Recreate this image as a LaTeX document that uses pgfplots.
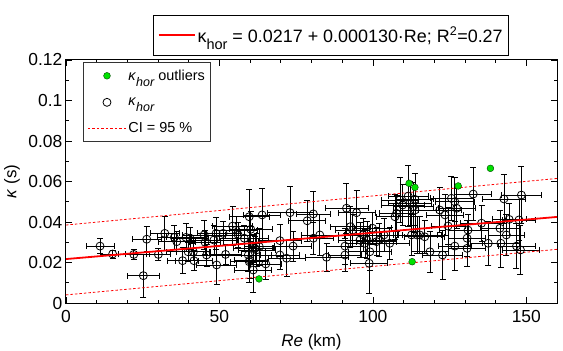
\documentclass[border=0pt]{standalone}
\usepackage{fontspec}
\setmainfont{Liberation Sans}
\usepackage{pgfplots}
\pgfplotsset{compat=1.18}
\usepackage{pgfplotstable}

\definecolor{outgreen}{RGB}{0,225,0}

\newcommand{\subhor}[2]{\raisebox{-#2}{\fontsize{#1}{#1}\selectfont hor}}

\pgfplotsset{
  mylegimg/.style={legend image code/.code={\draw[mark repeat=2,mark phase=2,##1] plot coordinates {(0bp,0bp) (19bp,0bp) (38bp,0bp)};}},
  fitlegimg/.style={legend image code/.code={\draw[red, line width=2bp] (0bp,0bp) -- (36bp,0bp);}},
}

\pgfplotstableread{
x y ex ey
11.1 0.0281 4.5 0.0036
15.2 0.0242 4.0 0.0020
22.1 0.0240 5.0 0.0025
25.2 0.0135 5.2 0.0105
26.3 0.0315 4.7 0.0062
30.1 0.0240 4.0 0.0030
32.2 0.0344 4.6 0.0084
35.3 0.0324 5.5 0.0060
36.1 0.0303 6.0 0.0050
38.0 0.0209 5.0 0.0064
39.1 0.0324 6.5 0.0070
39.8 0.0253 7.0 0.0045
40.4 0.0320 6.0 0.0055
41.5 0.0253 5.5 0.0040
41.7 0.0209 6.0 0.0050
45.0 0.0336 7.0 0.0070
45.3 0.0300 5.0 0.0060
45.8 0.0237 6.0 0.0055
48.2 0.0311 7.5 0.0070
48.9 0.0344 6.0 0.0080
49.1 0.0188 6.5 0.0095
51.2 0.0344 5.5 0.0060
52.0 0.0240 5.0 0.0050
54.3 0.0380 6.5 0.0095
55.4 0.0360 7.0 0.0070
56.1 0.0336 6.0 0.0060
58.1 0.0320 8.0 0.0065
59.4 0.0237 7.5 0.0080
59.7 0.0426 6.5 0.0133
59.7 0.0204 6.0 0.0100
59.9 0.0212 5.0 0.0090
60.2 0.0364 7.0 0.0090
61.0 0.0163 6.0 0.0110
61.0 0.0270 6.5 0.0070
61.6 0.0270 5.5 0.0060
62.1 0.0262 6.0 0.0080
63.0 0.0278 5.0 0.0090
63.9 0.0435 6.0 0.0130
65.1 0.0193 5.0 0.0075
69.7 0.0308 7.0 0.0080
69.7 0.0237 6.5 0.0070
71.9 0.0221 6.0 0.0090
73.0 0.0446 7.5 0.0130
74.0 0.0281 6.0 0.0075
78.6 0.0406 6.0 0.0100
80.6 0.0440 5.5 0.0110
80.6 0.0320 6.5 0.0080
82.7 0.0336 6.0 0.0100
84.9 0.0226 7.0 0.0070
90.9 0.0281 6.0 0.0090
90.9 0.0237 5.5 0.0080
91.4 0.0468 7.0 0.0125
92.7 0.0377 6.5 0.0100
93.4 0.0360 5.5 0.0080
94.7 0.0446 6.0 0.0110
95.8 0.0311 7.0 0.0085
96.8 0.0336 6.0 0.0080
97.4 0.0295 6.5 0.0070
98.1 0.0311 5.5 0.0090
98.8 0.0196 6.0 0.0150
99.0 0.0253 7.0 0.0090
99.9 0.0369 6.0 0.0080
101.2 0.0303 6.5 0.0070
102.1 0.0311 5.5 0.0080
103.6 0.0336 6.0 0.0080
105.5 0.0295 6.5 0.0080
107.2 0.0426 6.0 0.0110
107.7 0.0443 5.5 0.0090
108.8 0.0509 6.0 0.0110
109.7 0.0484 7.0 0.0100
111.5 0.0528 6.5 0.0150
112.1 0.0492 7.0 0.0110
112.6 0.0336 6.0 0.0100
113.1 0.0476 6.5 0.0120
113.7 0.0512 6.0 0.0130
113.7 0.0459 7.0 0.0110
114.4 0.0336 6.5 0.0090
115.3 0.0336 7.0 0.0090
116.9 0.0327 6.5 0.0080
118.6 0.0253 6.0 0.0100
121.8 0.0459 7.0 0.0110
122.7 0.0237 6.5 0.0120
123.5 0.0435 6.0 0.0100
124.5 0.0380 5.5 0.0090
125.6 0.0517 7.0 0.0110
126.7 0.0500 6.5 0.0120
127.3 0.0468 6.0 0.0100
126.7 0.0281 5.5 0.0120
130.7 0.0320 6.0 0.0090
131.0 0.0360 6.5 0.0080
130.7 0.0270 6.0 0.0090
132.7 0.0538 6.0 0.0130
135.4 0.0394 7.0 0.0090
137.6 0.0295 6.0 0.0110
141.4 0.0369 6.5 0.0090
141.7 0.0295 6.0 0.0120
142.7 0.0514 7.0 0.0120
143.5 0.0336 6.0 0.0100
144.4 0.0413 5.5 0.0080
146.8 0.0281 6.0 0.0110
147.6 0.0410 5.5 0.0100
148.1 0.0262 6.0 0.0120
148.4 0.0533 6.5 0.0140
}\maindata

\pgfplotstableread{
x y
62.9 0.0119
111.8 0.0591
113.7 0.0571
127.8 0.0578
138.3 0.0665
112.8 0.0204
}\outdata

\pgfplotstableread{
x y
0 0.0385
160 0.0615
}\ciup

\pgfplotstableread{
x y
0 0.0040
160 0.0265
}\cilow

\pgfplotstableread{
x y
0 0.0217
160 0.0425
}\fitline

\begin{document}
\begin{tikzpicture}
\begin{axis}[
  name=main,
  width=491bp, height=243bp, scale only axis,
  xmin=0, xmax=160, ymin=0, ymax=0.12,
  xtick={0,50,100,150}, minor x tick num=4,
  ytick={0,0.02,0.04,0.06,0.08,0.1,0.12}, minor y tick num=1,
  scaled y ticks=false,
  yticklabel style={/pgf/number format/fixed, /pgf/number format/precision=2, inner xsep=0pt, xshift=-3.5bp},
  xticklabel style={yshift=-4bp},
  tick label style={font=\fontsize{17.5}{20}\selectfont},
  /pgf/number format/assume math mode=true,
  major tick length=6bp, minor tick length=3bp,
  tick style={black, line width=0.7bp},
  axis line style={black, line width=1bp},
  xlabel={\textit{Re} (km)},
  ylabel={\textit{κ} (s)},
  label style={font=\fontsize{17}{20}\selectfont},
  xlabel style={at={(rel axis cs:0.5,0)}, anchor=center, yshift=-39.5bp},
  ylabel style={at={(rel axis cs:0,0.5)}, anchor=center, rotate=0, yshift=54bp},
  legend style={at={(0.035,0.99)}, anchor=north west, draw=black!80, line width=0.8bp,
    font=\fontsize{14.5}{17}\selectfont, cells={anchor=west}, row sep=12bp,
    inner xsep=4bp, inner ysep=5bp},
  mylegimg,
]
\addplot[only marks, mark=*, mark size=3.4bp, mark options={fill=outgreen, draw=black!70!outgreen, line width=0.4bp}, mylegimg]
  table[x=x, y=y] {\outdata};
\addlegendentry{\textit{κ}\textit{\subhor{12.5bp}{6bp}} outliers}

\addplot[only marks, mark=o, mark size=4bp, black, mark options={line width=0.8bp}, mylegimg,
  error bars/.cd, x dir=both, x explicit, y dir=both, y explicit,
  error bar style={line width=0.7bp, black},
  error mark options={rotate=90, mark size=3bp, line width=0.7bp, black}]
  table[x=x, y=y, x error=ex, y error=ey] {\maindata};
\addlegendentry{\textit{κ}\textit{\subhor{12.5bp}{6bp}}}

\addplot[red, line width=0.8bp, dash pattern=on 2.5bp off 2bp, no marks] table[x=x, y=y] {\ciup};
\addlegendentry{CI = 95 \%}
\addplot[red, line width=0.8bp, dash pattern=on 2.5bp off 2bp, no marks, forget plot] table[x=x, y=y] {\cilow};
\end{axis}

\begin{axis}[
  width=491bp, height=243bp, scale only axis,
  xmin=0, xmax=160, ymin=0, ymax=0.12,
  hide axis,
  legend style={at={(0.54,1.016)}, anchor=south, draw=black, line width=0.8bp,
    font=\fontsize{18}{21}\selectfont, inner xsep=4bp, inner ysep=10bp},
  fitlegimg,
]
\addplot[red, line width=1.8bp, no marks] table[x=x, y=y] {\fitline};
\addlegendentry{κ\subhor{14.5bp}{7bp} = 0.0217 + 0.000130·Re; R\textsuperscript{2}=0.27}
\end{axis}

\pgfresetboundingbox
\path[use as bounding box] ([shift={(-66bp,-48bp)}]main.south west) rectangle ([shift={(6bp,60bp)}]main.north east);
\end{tikzpicture}
\end{document}
